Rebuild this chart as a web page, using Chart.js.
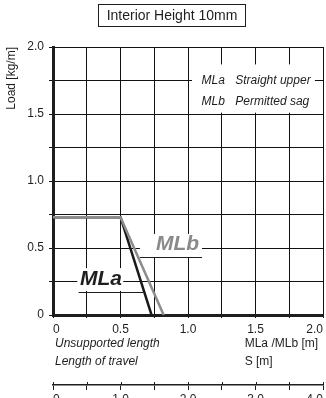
<!DOCTYPE html>
<html>
<head>
<meta charset="utf-8">
<script src="https://cdn.jsdelivr.net/npm/chart.js@4/dist/chart.umd.min.js"></script>
<style>
  body { margin: 0; background: #fff; }
  canvas { display: block; }
</style>
</head>
<body>
<canvas id="myChart" width="326" height="398"></canvas>
<script>
// unsupported length [m] against permitted load [kg/m]
var mlaLength = [0, 0.5, 0.73];
var mlaLoad = [0.73, 0.73, 0];
var mlbLength = [0, 0.5, 0.82];
var mlbLoad = [0.73, 0.73, 0];

var loadTicks = [0, 0.5, 1.0, 1.5, 2.0];
var lengthTicks = [0, 0.5, 1.0, 1.5, 2.0];
var travelTicks = [0, 1.0, 2.0, 3.0, 4.0];

var FONT = '"Liberation Sans", Arial, Helvetica, sans-serif';
var INK = '#1e1e1e';

function tickText(list) {
	return function (value) {
		if (list.indexOf(value) < 0) return '';
		return value === 0 ? '0' : value.toFixed(1);
	};
}

function points(xs, ys) {
	return xs.map(function (x, i) { return { x: x, y: ys[i] }; });
}

var chartText = {
	id: 'chartText',
	beforeDatasetsDraw: function (chart) {
		var c = chart.ctx;
		var px = function (v) { return chart.scales.x.getPixelForValue(v); };
		var py = function (v) { return chart.scales.y.getPixelForValue(v); };
		c.save();

		// key box
		c.fillStyle = '#fff';
		c.fillRect(px(1.03), py(1.87), px(1.94) - px(1.03), py(1.51) - py(1.87));
		c.fillStyle = INK;
		c.font = 'italic 12px ' + FONT;
		c.textBaseline = 'middle';
		c.fillText('MLa', px(1.10), py(1.75));
		c.fillText('Straight upper', px(1.35), py(1.75));
		c.fillText('MLb', px(1.10), py(1.59));
		c.fillText('Permitted sag', px(1.35), py(1.59));

		// MLa callout
		c.fillStyle = '#fff';
		c.fillRect(px(0.18), py(0.35), px(0.52) - px(0.18), py(0.18) - py(0.35));
		c.fillStyle = INK;
		c.font = 'italic bold 21px ' + FONT;
		c.fillText('MLa', px(0.2), py(0.265));
		c.strokeStyle = INK;
		c.lineWidth = 1;
		c.beginPath();
		c.moveTo(px(0.19), Math.round(py(0.17)) + 0.5);
		c.lineTo(px(0.667), Math.round(py(0.17)) + 0.5);
		c.stroke();

		// MLb callout
		c.fillStyle = '#fff';
		c.fillRect(px(0.644), py(0.605), px(1.104) - px(0.644), py(0.433) - py(0.605));
		c.fillStyle = '#8a8a8a';
		c.fillText('MLb', px(0.763), py(0.53));
		c.beginPath();
		c.moveTo(px(0.644), Math.round(py(0.433)) + 0.5);
		c.lineTo(px(1.104), Math.round(py(0.433)) + 0.5);
		c.stroke();
		c.restore();
	},
	afterDraw: function (chart) {
		var c = chart.ctx;
		var xs = chart.scales.x, x2 = chart.scales.x2;
		c.save();

		// heading
		c.strokeStyle = INK;
		c.lineWidth = 1;
		c.strokeRect(98.5, 4.5, 147, 22);
		c.fillStyle = INK;
		c.font = '14px ' + FONT;
		c.textAlign = 'center';
		c.textBaseline = 'middle';
		c.fillText('Interior Height 10mm', 172, 16);

		// axis captions
		c.textAlign = 'left';
		c.font = 'italic 12px ' + FONT;
		c.fillText('Unsupported length', xs.getPixelForValue(0) + 2, xs.top + 29);
		c.fillText('Length of travel', xs.getPixelForValue(0) + 2, xs.top + 47);
		c.font = '12px ' + FONT;
		c.fillText('MLa /MLb [m]', xs.getPixelForValue(1.42), xs.top + 29);
		c.fillText('S [m]', xs.getPixelForValue(1.42), xs.top + 47);

		// travel axis ticks reach above its line too
		c.beginPath();
		for (var v = 0; v <= 4; v += 0.5) {
			var p = Math.round(x2.getPixelForValue(v)) + 0.5;
			c.moveTo(p, x2.top - 3);
			c.lineTo(p, x2.top);
		}
		c.stroke();
		c.restore();
	}
};

var ctx = document.getElementById('myChart');
var myChart = new Chart(ctx, {
	type: 'line',
	data: {
		datasets: [{
			label: 'MLb',
			data: points(mlbLength, mlbLoad),
			borderColor: '#8c8c8c',
			borderWidth: 2.5,
			pointRadius: 0,
			tension: 0
		},
		{
			label: 'MLa',
			data: points(mlaLength, mlaLoad),
			borderColor: '#1a1a1a',
			borderWidth: 2.5,
			pointRadius: 0,
			tension: 0
		}
		]
	},
	options: {
		responsive: false,
		animation: false,
		events: [],
		layout: {
			padding: { top: 47, right: 3, left: 0, bottom: 0 }
		},
		plugins: {
			legend: { display: false },
			tooltip: { enabled: false }
		},
		scales: {
			x: {
				type: 'linear',
				position: 'bottom',
				min: 0,
				max: 2,
				afterBuildTicks: function (scale) {
					scale.ticks = [];
					for (var v = 0; v <= 2.0001; v += 0.25) scale.ticks.push({ value: Math.round(v * 100) / 100 });
				},
				afterFit: function (scale) {
					scale.height = 70;
					scale.paddingLeft = 0;
					scale.paddingRight = 0;
				},
				grid: { color: '#111', lineWidth: 1, tickLength: 3 },
				border: { color: INK, width: 3 },
				ticks: {
					align: 'inner',
					maxRotation: 0,
					autoSkip: false,
					padding: 4,
					color: INK,
					font: { family: FONT, size: 12 },
					callback: tickText(lengthTicks)
				}
			},
			x2: {
				type: 'linear',
				position: 'bottom',
				weight: 1,
				min: 0,
				max: 4,
				afterBuildTicks: function (scale) {
					scale.ticks = [];
					for (var v = 0; v <= 4.0001; v += 0.5) scale.ticks.push({ value: v });
				},
				afterFit: function (scale) {
					scale.height = 13;
					scale.paddingLeft = 0;
					scale.paddingRight = 0;
				},
				grid: { drawOnChartArea: false, color: INK, lineWidth: 1, tickLength: 5 },
				border: { color: INK, width: 1.5 },
				ticks: {
					align: 'inner',
					maxRotation: 0,
					autoSkip: false,
					padding: 2,
					color: INK,
					font: { family: FONT, size: 12 },
					callback: tickText(travelTicks)
				}
			},
			y: {
				min: 0,
				max: 2,
				afterBuildTicks: function (scale) {
					scale.ticks = [];
					for (var v = 0; v <= 2.0001; v += 0.25) scale.ticks.push({ value: Math.round(v * 100) / 100 });
				},
				afterFit: function (scale) {
					scale.width = 53;
				},
				grid: { color: '#111', lineWidth: 1, tickLength: 4 },
				border: { color: INK, width: 3 },
				title: {
					display: true,
					text: 'Load [kg/m]',
					align: 'end',
					color: INK,
					padding: { top: 4, bottom: 0 },
					font: { family: FONT, size: 12 }
				},
				ticks: {
					padding: 5,
					color: INK,
					font: { family: FONT, size: 12 },
					callback: tickText(loadTicks)
				}
			}
		}
	},
	plugins: [chartText]
});
</script>
</body>
</html>
